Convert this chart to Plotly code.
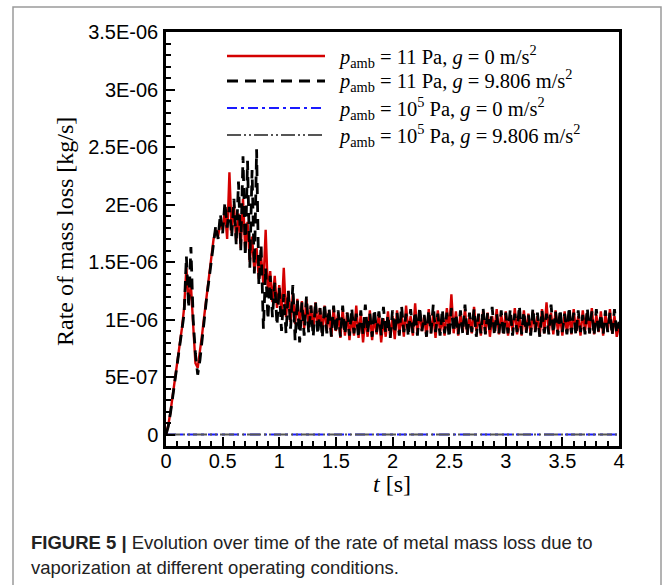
import plotly.graph_objects as go

# Rate of mass loss values in units of 1e-6 kg/s, sampled every 0.02 s from t=0 to t=4 s
DT = 0.02
rate_11pa_g0 = [
    0.00, 0.08, 0.20, 0.34, 0.48, 0.62, 0.78, 0.92, 1.10, 1.45,
    1.15, 1.30, 0.95, 0.62, 0.58, 0.72, 0.88, 1.05, 1.22, 1.40,
    1.55, 1.70, 1.78, 1.72, 1.86, 1.78, 1.95, 1.70, 2.28, 1.75,
    2.00, 1.68, 1.92, 1.62, 2.05, 1.60, 1.85, 1.50, 1.72, 1.42,
    1.62, 1.35, 1.55, 1.30, 1.78, 1.22, 1.42, 1.15, 1.38, 1.10,
    1.30, 1.05, 1.45, 1.02, 1.25, 0.98, 1.22, 0.96, 1.18, 0.94,
    1.16, 0.92, 1.18, 0.93, 1.12, 0.90, 1.15, 0.92, 1.10, 0.88,
    1.12, 0.90, 1.08, 0.85, 1.10, 0.90, 1.06, 0.84, 1.09, 0.86,
    1.06, 0.82, 1.04, 0.86, 1.12, 0.84, 1.05, 0.80, 1.02, 0.85,
    1.08, 0.82, 1.03, 0.87, 1.06, 0.80, 1.01, 0.85, 1.07, 0.84,
    1.03, 0.83, 1.08, 0.88, 1.05, 0.85, 1.12, 0.89, 1.03, 0.86,
    1.14, 0.87, 1.07, 0.90, 1.03, 0.85, 1.09, 0.88, 1.05, 0.84,
    1.08, 0.89, 1.02, 0.86, 1.10, 0.90, 1.22, 0.88, 1.07, 0.86,
    1.05, 0.89, 1.09, 0.87, 1.03, 0.88, 1.11, 0.90, 1.04, 0.86,
    1.08, 0.88, 1.06, 0.85, 1.03, 0.89, 1.09, 0.87, 1.05, 0.88,
    1.07, 0.86, 1.04, 0.90, 1.10, 0.87, 1.03, 0.86, 1.08, 0.89,
    1.05, 0.87, 1.07, 0.90, 1.03, 0.86, 1.09, 0.88, 1.15, 0.89,
    1.06, 0.87, 1.08, 0.90, 1.03, 0.86, 1.07, 0.88, 1.05, 0.87,
    1.09, 0.89, 1.03, 0.86, 1.08, 0.90, 1.06, 0.88, 1.10, 0.87,
    1.04, 0.89, 1.07, 0.86, 1.05, 0.90, 1.09, 0.88, 1.03, 0.85,
    0.95,
]
rate_11pa_g9806 = [
    0.00, 0.07, 0.19, 0.33, 0.47, 0.60, 0.76, 0.90, 1.05, 1.55,
    1.10, 1.63, 1.00, 0.70, 0.52, 0.65, 0.85, 1.00, 1.20, 1.35,
    1.52, 1.65, 1.82, 1.70, 1.92, 1.75, 2.02, 1.80, 1.98, 1.72,
    2.05, 1.65, 2.20, 1.60, 2.42, 1.55, 2.38, 1.45, 2.30, 1.40,
    2.48, 1.30, 1.65, 0.92, 1.45, 1.00, 1.38, 1.02, 1.32, 0.95,
    1.28, 0.90, 1.22, 0.88, 1.25, 0.92, 1.30, 0.82, 1.18, 0.80,
    1.15, 0.86, 1.20, 0.88, 1.12, 0.85, 1.16, 0.87, 1.10, 0.84,
    1.14, 0.88, 1.10, 0.85, 1.12, 0.88, 1.08, 0.85, 1.12, 0.87,
    1.06, 0.86, 1.10, 0.88, 1.05, 0.84, 1.08, 0.87, 1.13, 0.88,
    1.05, 0.85, 1.09, 0.89, 1.07, 0.86, 1.11, 0.88, 1.04, 0.84,
    1.08, 0.88, 1.06, 0.86, 1.12, 0.89, 1.05, 0.85, 1.09, 0.88,
    1.07, 0.86, 1.11, 0.90, 1.04, 0.85, 1.08, 0.88, 1.13, 0.89,
    1.05, 0.86, 1.09, 0.88, 1.06, 0.84, 1.10, 0.89, 1.05, 0.87,
    1.08, 0.88, 1.13, 0.86, 1.06, 0.89, 1.09, 0.85, 1.05, 0.88,
    1.10, 0.87, 1.06, 0.89, 1.11, 0.86, 1.05, 0.88, 1.08, 0.85,
    1.06, 0.88, 1.09, 0.86, 1.05, 0.89, 1.12, 0.87, 1.07, 0.88,
    1.04, 0.86, 1.10, 0.89, 1.06, 0.85, 1.08, 0.88, 1.05, 0.87,
    1.13, 0.88, 1.07, 0.86, 1.09, 0.89, 1.05, 0.87, 1.11, 0.88,
    1.06, 0.86, 1.08, 0.89, 1.04, 0.87, 1.10, 0.88, 1.07, 0.86,
    1.09, 0.88, 1.05, 0.87, 1.08, 0.89, 1.06, 0.86, 1.09, 0.88,
    0.98,
]
t_hi = [0.0, 4.0]
rate_1e5pa_g0 = [0.0, 0.0]
rate_1e5pa_g9806 = [0.0, 0.0]

ytick_vals = [0, 5e-7, 1e-6, 1.5e-6, 2e-6, 2.5e-6, 3e-6, 3.5e-6]
ytick_text = ["0", "5E-07", "1E-06", "1.5E-06", "2E-06", "2.5E-06", "3E-06", "3.5E-06"]
xtick_vals = [0, 0.5, 1, 1.5, 2, 2.5, 3, 3.5, 4]
xtick_text = ["0", "0.5", "1", "1.5", "2", "2.5", "3", "3.5", "4"]

legend_labels = [
    "<i>p</i><sub>amb</sub> = 11 Pa, <i>g</i> = 0 m/s<sup>2</sup>",
    "<i>p</i><sub>amb</sub> = 11 Pa, <i>g</i> = 9.806 m/s<sup>2</sup>",
    "<i>p</i><sub>amb</sub> = 10<sup>5</sup> Pa, <i>g</i> = 0 m/s<sup>2</sup>",
    "<i>p</i><sub>amb</sub> = 10<sup>5</sup> Pa, <i>g</i> = 9.806 m/s<sup>2</sup>",
]
caption1 = "<b>FIGURE 5 |</b> Evolution over time of the rate of metal mass loss due to"
caption2 = "vaporization at different operating conditions."

W, H = 663, 585
L, R, T, B = 166, 44, 32, 139
PW, PH = W - L - R, H - T - B

def px(x):
    return (x - L) / PW

def py(y):
    return (H - B - y) / PH

t_main = [i * DT for i in range(len(rate_11pa_g0))]
scale = 1e-6

styles = [
    dict(color="#d40000", width=2.4, dash="solid"),
    dict(color="#000000", width=2.8, dash="11px,7px"),
    dict(color="#1a1aff", width=2, dash="10px,4px,3px,4px"),
    dict(color="#555555", width=2, dash="14px,3px,2px,3px,2px,3px"),
]

fig = go.Figure()
fig.add_trace(go.Scatter(x=t_hi, y=rate_1e5pa_g0, mode="lines", line=styles[2], showlegend=False))
fig.add_trace(go.Scatter(x=t_hi, y=rate_1e5pa_g9806, mode="lines", line=styles[3], showlegend=False))
fig.add_trace(go.Scatter(x=t_main, y=[v * scale for v in rate_11pa_g0], mode="lines", line=styles[0], showlegend=False))
fig.add_trace(go.Scatter(x=t_main, y=[v * scale for v in rate_11pa_g9806], mode="lines", line=styles[1], showlegend=False))

tickfont = dict(family="Arial, Liberation Sans, sans-serif", size=20, color="#000")
serif = "Times New Roman, Liberation Serif, serif"

fig.update_xaxes(
    range=[0, 4], tickvals=xtick_vals, ticktext=xtick_text, tickfont=tickfont,
    showline=True, linecolor="#000", linewidth=2.5, mirror=True,
    ticks="inside", ticklen=9, tickwidth=2, tickcolor="#000", ticklabelstandoff=-5,
    minor=dict(dtick=0.1, tick0=0, ticks="inside", ticklen=5, tickwidth=1.5, tickcolor="#000"),
    showgrid=False, zeroline=False,
)
fig.update_yaxes(
    range=[-1e-7, 3.5e-6], tickvals=ytick_vals, ticktext=ytick_text, tickfont=tickfont,
    showline=True, linecolor="#000", linewidth=2.5, mirror=True,
    ticks="inside", ticklen=9, tickwidth=2, tickcolor="#000", ticklabelstandoff=1,
    minor=dict(dtick=1e-7, tick0=0, ticks="inside", ticklen=5, tickwidth=1.5, tickcolor="#000"),
    showgrid=False, zeroline=False,
)

shapes = []
annotations = []
# legend
rows = [56, 81, 108, 135]
for lab, st, yy in zip(legend_labels, styles, rows):
    shapes.append(dict(type="line", xref="paper", yref="paper", x0=px(227), x1=px(325),
                       y0=py(yy), y1=py(yy), line=st))
    annotations.append(dict(xref="paper", yref="paper", x=px(336), y=py(yy), xanchor="left",
                            yanchor="middle", text=lab, showarrow=False,
                            font=dict(family=serif, size=20.5, color="#000")))
# axis titles
annotations.append(dict(xref="paper", yref="paper", x=px(65), y=py(232), xanchor="center", yanchor="middle",
                        text="Rate of mass loss [kg/s]", textangle=-90, showarrow=False,
                        font=dict(family=serif, size=24, color="#000")))
annotations.append(dict(xref="paper", yref="paper", x=px(392), y=py(484), xanchor="center", yanchor="middle",
                        text="<i>t</i> [s]", showarrow=False, font=dict(family=serif, size=24, color="#000")))
# caption
capfont = dict(family="Arial, Liberation Sans, sans-serif", size=18.5, color="#222")
annotations.append(dict(xref="paper", yref="paper", x=px(29), y=py(542), xanchor="left", yanchor="middle",
                        text=caption1, showarrow=False, font=capfont))
annotations.append(dict(xref="paper", yref="paper", x=px(29), y=py(567), xanchor="left", yanchor="middle",
                        text=caption2, showarrow=False, font=capfont))
# outer frame
shapes.append(dict(type="rect", xref="paper", yref="paper", x0=px(13), x1=px(661), y0=py(600), y1=py(7),
                   line=dict(color="#9a9a9a", width=1.5), layer="below"))

fig.update_layout(
    width=W, height=H, margin=dict(l=L, r=R, t=T, b=B),
    paper_bgcolor="white", plot_bgcolor="white",
    shapes=shapes, annotations=annotations, showlegend=False,
)
fig.write_html("out.html")
